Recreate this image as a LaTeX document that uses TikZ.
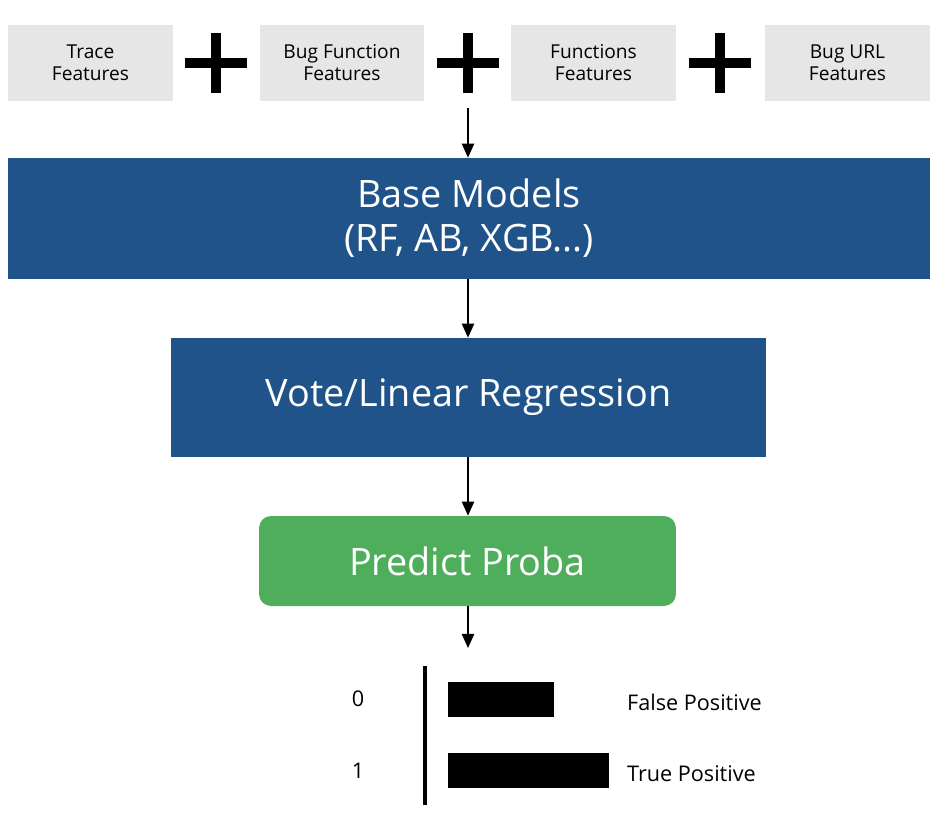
\documentclass[tikz,border=0pt]{standalone}
\usepackage{fontspec}
\setmainfont{Open Sans}
\usetikzlibrary{arrows.meta, positioning}

\definecolor{featgray}{HTML}{E6E6E6}
\definecolor{modelblue}{HTML}{1F5389}
\definecolor{probagreen}{HTML}{4FAE5B}

\tikzset{
  feature/.style={fill=featgray, minimum width=3.3cm, minimum height=1.52cm,
    align=center, inner sep=0pt, font=\fontsize{10.9}{12.5}\selectfont},
  model/.style={fill=modelblue, text=white, align=center, inner sep=0pt,
    font=\fontsize{21.5}{25}\selectfont},
  flow/.style={-{Triangle[width=7pt,length=8pt]}, line width=0.85pt},
  plus/.style={line width=0.2cm},
  bar/.style={fill=black, minimum height=0.7cm, inner sep=0pt},
  barlabel/.style={font=\fontsize{12.3}{14}\selectfont},
}

\begin{document}
\begin{tikzpicture}[x=0.02cm, y=-0.02cm]
    \useasboundingbox (0,0) rectangle (942,816);
    % input features
    \node[feature] (trace) at (90.5,63) {Trace\\Features};
    \node[feature] (bugfunc) at (342,63) {Bug Function\\Features};
    \node[feature] (funcs) at (593.5,63) {Functions\\Features};
    \node[feature] (bugurl) at (847.5,63) {Bug URL\\Features};
    % plus signs between the feature boxes
    \foreach \x in {216,468,720} {
        \draw[plus] (\x-31,63) -- (\x+31,63);
        \draw[plus] (\x,33) -- (\x,93);
    }
    \coordinate (join) at (468,108);

    % models
    \node[model, minimum width=18.44cm, minimum height=2.42cm] (base) at (469,218.5)
        {Base Models\\(RF, AB, XGB...)};
    \node[model, minimum width=11.9cm, minimum height=2.38cm] (vote) at (468.5,397.5)
        {Vote/Linear Regression};
    \node[model, fill=probagreen, rounded corners=0.24cm, minimum width=8.34cm,
        minimum height=1.8cm] (proba) at (467.5,561) {Predict Proba};
    \coordinate (out) at (468,648);

    \draw[flow] (join) -- (base.north -| join);
    \draw[flow] (base.south -| join) -- (vote.north -| join);
    \draw[flow] (vote.south -| join) -- (proba.north -| join);
    \draw[flow] (proba.south -| join) -- (out);

    % output bars
    \draw[line width=2.3pt] (425,666) -- (425,805);
    \node[bar, minimum width=2.12cm, anchor=west] (fp) at (448,699.5) {};
    \node[bar, minimum width=3.22cm, anchor=west] (tp) at (448,770.5) {};
    \node[barlabel] (zero) at (358,699) {0};
    \node[barlabel] (one) at (358,771) {1};
    \node[barlabel, anchor=west] (fplabel) at (621,702) {False Positive};
    \node[barlabel, anchor=west] (tplabel) at (621,774) {True Positive};
\end{tikzpicture}
\end{document}
